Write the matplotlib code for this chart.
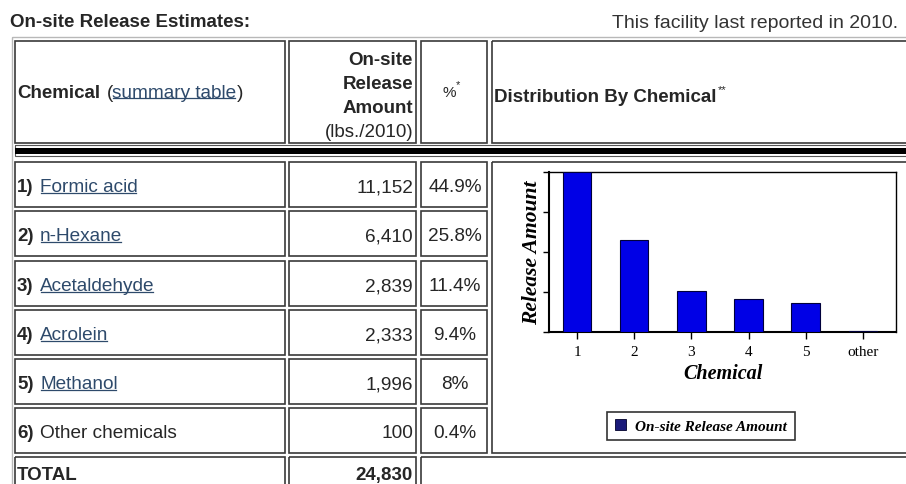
import matplotlib
matplotlib.use('Agg')
import numpy as np
import matplotlib.pyplot as plt
from matplotlib.patches import Rectangle, Patch

# table / chart data
ranks = ['1)', '2)', '3)', '4)', '5)', '6)']
chemicals = ['Formic acid', 'n-Hexane', 'Acetaldehyde', 'Acrolein', 'Methanol', 'Other chemicals']
is_link = [True, True, True, True, True, False]
amounts = [11152, 6410, 2839, 2333, 1996, 100]
percents = ['44.9%', '25.8%', '11.4%', '9.4%', '8%', '0.4%']
total_amount = 24830
bar_labels = ['1', '2', '3', '4', '5', 'other']

W, H = 906, 485
TXT = '#262626'
LINK = '#2e4a6b'
BORDER = '#3a3a3a'
SANS = 'Liberation Sans'
SERIF = 'Liberation Serif'
FS = 13.7

plt.rcParams['font.family'] = SANS

fig = plt.figure(figsize=(W / 100, H / 100), dpi=100)
fig.patch.set_facecolor('white')

# background axes in pixel coordinates (y down) for the html-like table
bg = fig.add_axes([0, 0, 1, 1])
bg.set_xlim(0, W)
bg.set_ylim(H, 0)
bg.axis('off')
renderer = fig.canvas.get_renderer()


def box(x0, y0, x1, y1, ec=BORDER, lw=1.2, fc='none'):
    bg.add_patch(Rectangle((x0, y0), x1 - x0, y1 - y0, fill=(fc != 'none'),
                           fc=fc, ec=ec, lw=lw))


def link(x, y, s, **kw):
    # html link: coloured text with an underline
    t = bg.text(x, y, s, color=LINK, va='baseline', fontsize=FS, **kw)
    bb = t.get_window_extent(renderer=renderer)
    bg.plot([bb.x0 + 0.5, bb.x1 - 1.5], [y + 1.8, y + 1.8], color=LINK, lw=0.9)
    return bb


# page heading
bg.text(10, 27, 'On-site Release Estimates:', fontsize=13.5, fontweight='bold',
        color=TXT, va='baseline')
bg.text(898, 27.5, 'This facility last reported in 2010.', fontsize=14,
        color='#333333', va='baseline', ha='right')

# column edges
cols = [(15, 285), (289, 416), (421, 487), (492, 912)]

# outer table border
box(12, 37.5, 912, 490, ec='#b8b8b8', lw=1.0)

# header row
for x0, x1 in cols:
    box(x0, 42, x1, 144)
bg.text(17, 97.5, 'Chemical', fontsize=13.5, fontweight='bold', color=TXT, va='baseline')
bg.text(107, 97.5, '(', fontsize=FS, color=TXT, va='baseline')
bb = link(112, 97.5, 'summary table')
bg.text(bb.x1 + 0.5, 97.5, ')', fontsize=FS, color=TXT, va='baseline')

for yb, s, w in [(65, 'On-site', 'bold'), (89, 'Release', 'bold'),
                 (113, 'Amount', 'bold'), (137.5, '(lbs./2010)', 'normal')]:
    bg.text(413, yb, s, fontsize=13.5, fontweight=w, color=TXT, va='baseline', ha='right')

bg.text(449, 97, '%', fontsize=11, color=TXT, va='baseline', ha='center')
bg.text(458, 88, '*', fontsize=8, color=TXT, va='baseline', ha='center')
t = bg.text(494, 102.5, 'Distribution By Chemical', fontsize=13.5, fontweight='bold',
            color=TXT, va='baseline')
bb = t.get_window_extent(renderer=renderer)
bg.text(bb.x1 + 1, 93, '**', fontsize=8, color=TXT, va='baseline')

# thick separator
box(15, 146, 912, 157, ec='#555555', lw=0.8)
bg.add_patch(Rectangle((15, 149), 897, 5.5, fc='black', ec='none'))

# data rows
row_tops = [163, 212, 262, 311, 360, 409]
for i, top in enumerate(row_tops):
    for x0, x1 in cols[:3]:
        box(x0, top, x1, top + 45)
    yb = top + 29.5
    bg.text(17, yb, ranks[i], fontsize=13.5, fontweight='bold', color=TXT, va='baseline')
    if is_link[i]:
        link(40, yb, chemicals[i])
    else:
        bg.text(40, yb, chemicals[i], fontsize=FS, color=TXT, va='baseline')
    bg.text(413, yb, f'{amounts[i]:,}', fontsize=FS, color=TXT, va='baseline', ha='right')
    bg.text(455, yb, percents[i], fontsize=FS, color=TXT, va='baseline', ha='center')

# chart cell
box(492, 163, 912, 454)

# total row
box(15, 458, 285, 492)
box(289, 458, 416, 492)
box(421, 458, 912, 492)
bg.text(17, 480, 'TOTAL', fontsize=13.5, fontweight='bold', color=TXT, va='baseline')
bg.text(413, 480, f'{total_amount:,}', fontsize=13.5, fontweight='bold', color=TXT,
        va='baseline', ha='right')

# bar chart inside the cell
ax = fig.add_axes([549 / W, (H - 333) / H, 347 / W, 160 / H])
x = np.arange(len(amounts))
ax.bar(x, amounts, width=0.5, color='#0000e6', edgecolor='#00003a', lw=0.8, zorder=3)
ax.set_xlim(-0.49, 5.58)
ax.set_ylim(0, max(amounts))
ax.set_yticks(np.linspace(0, max(amounts), 5))
ax.set_yticklabels([])
ax.set_xticks(x)
ax.set_xticklabels(bar_labels, fontfamily=SERIF, fontsize=11, color='black')
ax.tick_params(axis='x', length=5, width=1.0, pad=4)
ax.tick_params(axis='y', length=4, width=1.0)
for side in ['left', 'bottom']:
    ax.spines[side].set_linewidth(1.5)
for side in ['top', 'right']:
    ax.spines[side].set_linewidth(1.0)
ax.set_xlabel('Chemical', fontfamily=SERIF, fontsize=14.5, fontweight='bold',
              fontstyle='italic', labelpad=4)
ax.set_ylabel('Release Amount', fontfamily=SERIF, fontsize=15.5, fontweight='bold',
              fontstyle='italic', labelpad=-2.5)

handle = Patch(facecolor='#1a1a7a', edgecolor='#00002a', lw=0.6)
leg = fig.legend([handle], ['On-site Release Amount'], loc='center',
                 bbox_to_anchor=(701 / W, (H - 427) / H), frameon=True, fancybox=False,
                 prop={'family': SERIF, 'size': 11, 'weight': 'bold', 'style': 'italic'},
                 handlelength=0.7, handleheight=0.7, handletextpad=0.6,
                 borderpad=0.5, borderaxespad=0)
leg.get_frame().set_edgecolor('black')
leg.get_frame().set_linewidth(1.2)

fig.savefig('out.png', dpi=100)
